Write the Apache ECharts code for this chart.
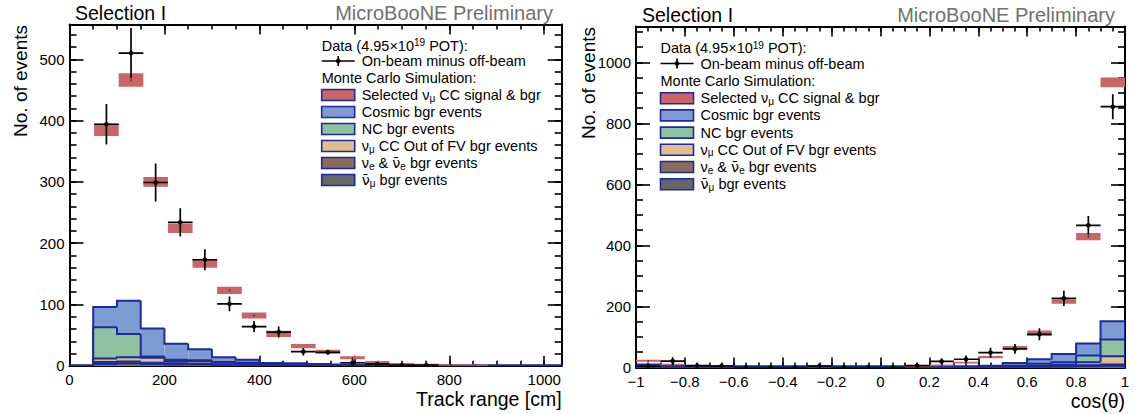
<!DOCTYPE html>
<html>
<head>
<meta charset="utf-8">
<title>Selection I – track range and cos(θ)</title>
<script src="https://cdn.jsdelivr.net/npm/echarts@6/dist/echarts.min.js"></script>
<style>
  html, body { margin: 0; padding: 0; background: #ffffff; }
  #chart { width: 1136px; height: 414px; }
</style>
</head>
<body>
<div id="chart"></div>
<script>
// ---------------------------------------------------------------------------
// Track range [cm]
// Data and total MC use 20 bins over the 1036.8 cm TPC length,
// the stacked backgrounds use 50 cm bins.
// ---------------------------------------------------------------------------
const trkDataEdges = [0, 51.84, 103.68, 155.52, 207.36, 259.2, 311.04, 362.88, 414.72, 466.56, 518.4,
                      570.24, 622.08, 673.92, 725.76, 777.6, 829.44, 881.28, 933.12, 984.96, 1036.8];
const trkData      = [null, 394, 510, 299, 234, 173, 101, 64, 55, 23, 22, 5, 3, 1, 1, null, null, null, null, null];
const trkDataErr   = [0, 33, 41, 31, 23, 17, 12, 9, 9, 6, 4, 6, 3, 2, 2, 0, 0, 0, 0, 0];
const trkMC        = [null, 385, 466, 300, 224, 167, 123, 82, 52, 32, 23, 13, 6, 3, 2, 1.5, 1, null, null, null];
const trkMCErr     = [0, 10, 11, 8, 7.5, 7, 6, 5, 5, 3.5, 3, 2.5, 2, 1.5, 1.5, 1, 1, 0, 0, 0];

const trkStackEdges = [0, 50, 100, 150, 200, 250, 300, 350, 400, 450, 500, 550, 600, 650, 700,
                       750, 800, 850, 900, 950, 1000, 1050];
const trkAntiNumu = [0, 3, 4, 3, 2, 2, 1, 1, 0.5, 0.5, 0.3, 0.2, 0.2, 0.1, 0, 0, 0, 0, 0, 0, 0];
const trkNue      = [0, 3, 3, 2, 2, 1.5, 1, 1, 0.5, 0.3, 0.2, 0.1, 0.1, 0, 0, 0, 0, 0, 0, 0, 0];
const trkOOFV     = [0, 6, 7, 8, 4, 4, 3, 2, 1, 1, 0.5, 0.5, 0.3, 0.2, 0.1, 0, 0, 0, 0, 0, 0];
const trkNC       = [0, 51, 38, 2, 2, 1.5, 1, 1, 0.5, 0.5, 0.3, 0.3, 0.2, 0.1, 0, 0, 0, 0, 0, 0, 0];
const trkCosmic   = [0, 33, 54, 46, 26, 18, 8, 5, 2, 2, 1.5, 1, 1, 0.5, 0.5, 0.3, 0.2, 0, 0, 0, 0];

// ---------------------------------------------------------------------------
// cos(θ), 20 bins from -1 to 1
// ---------------------------------------------------------------------------
const cosEdges   = [-1, -0.9, -0.8, -0.7, -0.6, -0.5, -0.4, -0.3, -0.2, -0.1, 0,
                    0.1, 0.2, 0.3, 0.4, 0.5, 0.6, 0.7, 0.8, 0.9, 1];
const cosData    = [4, 21, 6, 5, 0, 0, 0, 5, 0, 0, 0, 6, 20, 27, 49, 61, 109, 227, 466, 855];
const cosDataErr = [8, 13, 7, 8, 8, 8, 8, 8, 8, 8, 8, 8, 10, 12, 16, 16, 20, 25, 31, 41];
const cosMC      = [22, 10, null, null, null, null, null, null, null, null, null, 5, 8, 16, 34, 65, 112, 218, 429, 935];
const cosMCErr   = [3, 2, 0, 0, 0, 0, 0, 0, 0, 0, 0, 1.5, 2, 2.5, 4, 5.5, 9, 9, 12, 16];

const cosAntiNumu = [1, 1, 0.5, 0.5, 0.5, 0.5, 0.5, 0.5, 0.5, 0.5, 0.5, 0.5, 0.5, 0.5, 0.5, 1, 1, 2, 4, 6];
const cosNue      = [1, 0.5, 0.5, 0.5, 0.5, 0.5, 0.5, 0.5, 0.5, 0.5, 0.5, 0.5, 0.5, 0.5, 0.5, 1, 1, 2, 3, 4];
const cosOOFV     = [2, 1, 0.5, 0.5, 0.5, 0.5, 0.5, 0.5, 0.5, 0.5, 0.5, 0.5, 0.5, 0.5, 1, 2, 3, 5, 10, 27];
const cosNC       = [2, 1, 0.5, 0.5, 0.5, 0.5, 0.5, 0.5, 0.5, 0.5, 0.5, 0.5, 0.5, 0.5, 1, 2, 7, 8, 22, 55];
const cosCosmic   = [4, 2, 2, 2, 2, 2, 2, 2, 2, 2, 2, 2, 2, 2, 3, 9, 15, 27, 40, 60];

// Legend / axis text
const legendHeaderData = 'Data (4.95×10{sup|19} POT):';
const legendData       = 'On-beam minus off-beam';
const legendHeaderMC   = 'Monte Carlo Simulation:';
const legendEntries = [
  'Selected ν{sub|μ} CC signal & bgr',
  'Cosmic bgr events',
  'NC bgr events',
  'ν{sub|μ} CC Out of FV bgr events',
  'ν{sub|e} & {bar|ν\u0304}{sub|e} bgr events',
  '{bar|ν\u0304}{sub|μ} bgr events'
];

// ---------------------------------------------------------------------------
const FONT = '"Liberation Sans", Arial, Helvetica, sans-serif';
const COL = {
  signal: '#c96565',
  cosmic: '#7e9bd1',
  nc:     '#8fc2a1',
  oofv:   '#dfbf8f',
  nue:    '#8a6c5c',
  anti:   '#676767',
  edge:   '#1b2b9c'
};
const legendColors = [COL.signal, COL.cosmic, COL.nc, COL.oofv, COL.nue, COL.anti];

const panels = [
  { left: 69.5, top: 24.5, width: 492.2, height: 341.3,
    xMin: 0, xMax: 1036.8, xMajor: 200, xMinor: 50,
    yMin: 0, yMax: 556.7, yMajor: 100, yMinor: 20 },
  { left: 636, top: 26.5, width: 489, height: 341,
    xMin: -1, xMax: 1, xMajor: 0.2, xMinor: 0.05,
    yMin: 0, yMax: 1118, yMajor: 200, yMinor: 50 }
];

function fmtTick(v) {
  const r = Math.round(v * 1000) / 1000;
  return String(r).replace('-', '\u2212');
}

const xAxes = [], yAxes = [];
panels.forEach(function (p, g) {
  const lineStyle = { color: '#000', width: 2 };
  const tickStyle = { color: '#000', width: 1.6 };
  const label = { show: true, fontSize: 15, color: '#000', fontFamily: FONT, margin: 6,
                  showMaxLabel: false, formatter: fmtTick };
  // bottom: major ticks + labels, minor ticks
  xAxes.push({ gridIndex: g, type: 'value', position: 'bottom', min: p.xMin, max: p.xMax, interval: p.xMajor,
    axisLine: { show: true, onZero: false, lineStyle: lineStyle },
    axisTick: { show: true, inside: true, length: 10, lineStyle: tickStyle },
    axisLabel: Object.assign({}, label, { showMaxLabel: g === 1 }), splitLine: { show: false } });
  xAxes.push({ gridIndex: g, type: 'value', position: 'bottom', min: p.xMin, max: p.xMax, interval: p.xMinor,
    axisLine: { show: false, onZero: false }, axisTick: { show: true, inside: true, length: 5, lineStyle: tickStyle },
    axisLabel: { show: false }, splitLine: { show: false } });
  // top mirror
  xAxes.push({ gridIndex: g, type: 'value', position: 'top', min: p.xMin, max: p.xMax, interval: p.xMajor,
    axisLine: { show: true, onZero: false, lineStyle: lineStyle },
    axisTick: { show: true, inside: true, length: 10, lineStyle: tickStyle },
    axisLabel: { show: false }, splitLine: { show: false } });
  xAxes.push({ gridIndex: g, type: 'value', position: 'top', min: p.xMin, max: p.xMax, interval: p.xMinor,
    axisLine: { show: false, onZero: false }, axisTick: { show: true, inside: true, length: 5, lineStyle: tickStyle },
    axisLabel: { show: false }, splitLine: { show: false } });
  // left: major ticks + labels, minor ticks
  yAxes.push({ gridIndex: g, type: 'value', position: 'left', min: p.yMin, max: p.yMax, interval: p.yMajor,
    axisLine: { show: true, onZero: false, lineStyle: lineStyle },
    axisTick: { show: true, inside: true, length: 14, lineStyle: tickStyle },
    axisLabel: Object.assign({}, label, { margin: 5 }), splitLine: { show: false } });
  yAxes.push({ gridIndex: g, type: 'value', position: 'left', min: p.yMin, max: p.yMax, interval: p.yMinor,
    axisLine: { show: false, onZero: false }, axisTick: { show: true, inside: true, length: 7, lineStyle: tickStyle },
    axisLabel: { show: false }, splitLine: { show: false } });
  // right mirror
  yAxes.push({ gridIndex: g, type: 'value', position: 'right', min: p.yMin, max: p.yMax, interval: p.yMajor,
    axisLine: { show: true, onZero: false, lineStyle: lineStyle },
    axisTick: { show: true, inside: true, length: 14, lineStyle: tickStyle },
    axisLabel: { show: false }, splitLine: { show: false } });
  yAxes.push({ gridIndex: g, type: 'value', position: 'right', min: p.yMin, max: p.yMax, interval: p.yMinor,
    axisLine: { show: false, onZero: false }, axisTick: { show: true, inside: true, length: 7, lineStyle: tickStyle },
    axisLabel: { show: false }, splitLine: { show: false } });
});

// --- renderers --------------------------------------------------------------
// Stacked histogram layer: filled bin with a step outline along its top.
function renderStep(fill) {
  return function (params, api) {
    const x0 = api.value(0), x1 = api.value(1), top = api.value(2), prev = api.value(3), next = api.value(4);
    const pTL = api.coord([x0, top]);
    const pBR = api.coord([x1, 0]);
    const pPrev = api.coord([x0, prev]);
    const pNext = api.coord([x1, next]);
    const edge = { stroke: COL.edge, lineWidth: 2, fill: null };
    const children = [
      { type: 'rect', shape: { x: pTL[0], y: pTL[1], width: pBR[0] - pTL[0], height: pBR[1] - pTL[1] },
        style: { fill: fill } },
      { type: 'polyline', shape: { points: [pPrev, pTL, [pBR[0], pTL[1]]] }, style: edge }
    ];
    if (params.dataIndex === params.dataInsideLength - 1 || next === 0) {
      children.push({ type: 'line', shape: { x1: pBR[0], y1: pTL[1], x2: pNext[0], y2: pNext[1] }, style: edge });
    }
    return { type: 'group', children: children };
  };
}

// Total MC: box of ±uncertainty around the prediction with its marker.
function renderBand(params, api) {
  const x0 = api.value(0), x1 = api.value(1), c = api.value(2), e = api.value(3);
  const a = api.coord([x0, c + e]);
  const b = api.coord([x1, c - e]);
  const m = api.coord([(x0 + x1) / 2, c]);
  return { type: 'group', children: [
    { type: 'rect', shape: { x: a[0], y: a[1], width: b[0] - a[0], height: Math.max(b[1] - a[1], 1.5) },
      style: { fill: COL.signal } },
    { type: 'circle', shape: { cx: m[0], cy: m[1], r: 0.8 }, style: { fill: '#2a2a2a' } }
  ] };
}

// Data point: horizontal bin-width bar, vertical error bar, filled marker.
function renderPoint(params, api) {
  const x0 = api.value(0), x1 = api.value(1), y = api.value(2), e = api.value(3);
  const xc = (x0 + x1) / 2;
  const l = api.coord([x0, y]), r = api.coord([x1, y]);
  const t = api.coord([xc, y + e]), b = api.coord([xc, y - e]);
  const st = { stroke: '#000', lineWidth: 1.7 };
  return { type: 'group', children: [
    { type: 'line', shape: { x1: l[0], y1: l[1], x2: r[0], y2: r[1] }, style: st },
    { type: 'line', shape: { x1: t[0], y1: t[1], x2: b[0], y2: b[1] }, style: st },
    { type: 'circle', shape: { cx: t[0], cy: l[1], r: 2.3 }, style: { fill: '#000' } }
  ] };
}

function stackSeries(g, edges, layers) {
  // layers: bottom → top; drawn top-down as cumulative sums
  const n = edges.length - 1;
  const cum = [];
  let run = new Array(n).fill(0);
  layers.forEach(function (L) {
    run = run.map(function (v, i) { return v + L.values[i]; });
    cum.push({ color: L.color, values: run.slice() });
  });
  const out = [];
  for (let k = cum.length - 1; k >= 0; k--) {
    const v = cum[k].values;
    const data = [];
    for (let i = 0; i < n; i++) {
      data.push([edges[i], edges[i + 1], v[i], i === 0 ? 0 : v[i - 1], i === n - 1 ? 0 : v[i + 1]]);
    }
    out.push({ type: 'custom', xAxisIndex: g * 4, yAxisIndex: g * 4, clip: true, z: 2,
      renderItem: renderStep(cum[k].color), data: data, silent: true });
  }
  return out;
}

function bandSeries(g, edges, vals, errs) {
  const data = [];
  vals.forEach(function (v, i) { if (v !== null) data.push([edges[i], edges[i + 1], v, errs[i]]); });
  return { type: 'custom', xAxisIndex: g * 4, yAxisIndex: g * 4, clip: true, z: 3,
    renderItem: renderBand, data: data, silent: true };
}

function pointSeries(g, edges, vals, errs) {
  const data = [];
  vals.forEach(function (v, i) { if (v !== null) data.push([edges[i], edges[i + 1], v, errs[i]]); });
  return { type: 'custom', xAxisIndex: g * 4, yAxisIndex: g * 4, clip: true, z: 4,
    renderItem: renderPoint, data: data, silent: true };
}

const series = []
  .concat(stackSeries(0, trkStackEdges, [
    { color: COL.anti, values: trkAntiNumu },
    { color: COL.nue, values: trkNue },
    { color: COL.oofv, values: trkOOFV },
    { color: COL.nc, values: trkNC },
    { color: COL.cosmic, values: trkCosmic }
  ]))
  .concat([bandSeries(0, trkDataEdges, trkMC, trkMCErr), pointSeries(0, trkDataEdges, trkData, trkDataErr)])
  .concat(stackSeries(1, cosEdges, [
    { color: COL.anti, values: cosAntiNumu },
    { color: COL.nue, values: cosNue },
    { color: COL.oofv, values: cosOOFV },
    { color: COL.nc, values: cosNC },
    { color: COL.cosmic, values: cosCosmic }
  ]))
  .concat([bandSeries(1, cosEdges, cosMC, cosMCErr), pointSeries(1, cosEdges, cosData, cosDataErr)]);

// --- legend, titles, axis titles ---------------------------------------------
const LEG_FS = 14.5;
const richText = {
  sub: { fontSize: 10, lineHeight: 8, verticalAlign: 'bottom', fontFamily: FONT, color: '#000' },
  sup: { fontSize: 10, lineHeight: 8, verticalAlign: 'top', fontFamily: FONT, color: '#000' },
  bar: { fontSize: LEG_FS, fontFamily: '"DejaVu Sans", sans-serif', color: '#000' }
};

function legendBlock(x, y0, step) {
  const els = [];
  const txt = function (tx, ty, s) {
    return { type: 'text', x: tx, y: ty, silent: true, z: 10,
      style: { text: s, fontSize: LEG_FS, fontFamily: FONT, fill: '#000', verticalAlign: 'middle',
               lineHeight: 16, rich: richText } };
  };
  const boxX = x, boxW = 33, boxH = 11, textX = x + 40;
  let y = y0;
  els.push(txt(x, y, legendHeaderData));
  y += step[0];
  // data marker
  els.push({ type: 'line', z: 10, shape: { x1: boxX, y1: y, x2: boxX + boxW, y2: y }, style: { stroke: '#000', lineWidth: 1.7 } });
  els.push({ type: 'line', z: 10, shape: { x1: boxX + boxW / 2, y1: y - 5, x2: boxX + boxW / 2, y2: y + 5 }, style: { stroke: '#000', lineWidth: 1.7 } });
  els.push({ type: 'circle', z: 10, shape: { cx: boxX + boxW / 2, cy: y, r: 2.3 }, style: { fill: '#000' } });
  els.push(txt(textX, y, legendData));
  y += step[1];
  els.push(txt(x, y, legendHeaderMC));
  legendEntries.forEach(function (s, i) {
    y += step[2];
    els.push({ type: 'rect', z: 10, shape: { x: boxX, y: y - boxH / 2, width: boxW, height: boxH },
      style: { fill: legendColors[i], stroke: COL.edge, lineWidth: 1.6 } });
    els.push(txt(textX, y, s));
  });
  return els;
}

const graphics = []
  .concat(legendBlock(321.7, 45.5, [15.5, 17, 17]))
  .concat(legendBlock(660.5, 48, [15.5, 17.5, 17.2]))
  .concat([
    { type: 'text', x: 20, y: 25, rotation: Math.PI / 2, silent: true,
      style: { text: 'No. of events', fontSize: 19, fontFamily: FONT, fill: '#000', align: 'right', verticalAlign: 'middle' } },
    { type: 'text', x: 588, y: 27, rotation: Math.PI / 2, silent: true,
      style: { text: 'No. of events', fontSize: 19, fontFamily: FONT, fill: '#000', align: 'right', verticalAlign: 'middle' } },
    { type: 'text', x: 561.7, y: 399, silent: true,
      style: { text: 'Track range [cm]', fontSize: 19.5, fontFamily: FONT, fill: '#000', align: 'right', verticalAlign: 'middle' } },
    { type: 'text', x: 1125, y: 401, silent: true,
      style: { text: 'cos(θ)', fontSize: 19.5, fontFamily: FONT, fill: '#000', align: 'right', verticalAlign: 'middle' } }
  ]);

const titleStyle = { fontSize: 19.5, fontWeight: 'normal', fontFamily: FONT, color: '#000' };
const prelimStyle = { fontSize: 20, fontWeight: 'normal', fontFamily: FONT, color: '#707070' };

const option = {
  animation: false,
  backgroundColor: '#ffffff',
  title: [
    { text: 'Selection I', left: 75, top: 3, padding: 0, textStyle: titleStyle },
    { text: 'MicroBooNE Preliminary', right: 1136 - 553, top: 3, padding: 0, textStyle: prelimStyle },
    { text: 'Selection I', left: 642, top: 5, padding: 0, textStyle: titleStyle },
    { text: 'MicroBooNE Preliminary', right: 1136 - 1115, top: 5, padding: 0, textStyle: prelimStyle }
  ],
  grid: panels.map(function (p) { return { left: p.left, top: p.top, width: p.width, height: p.height, containLabel: false }; }),
  xAxis: xAxes,
  yAxis: yAxes,
  series: series,
  graphic: graphics
};

const chart = echarts.init(document.getElementById('chart'), null, { renderer: 'svg', width: 1136, height: 414 });
chart.setOption(option);
</script>
</body>
</html>
